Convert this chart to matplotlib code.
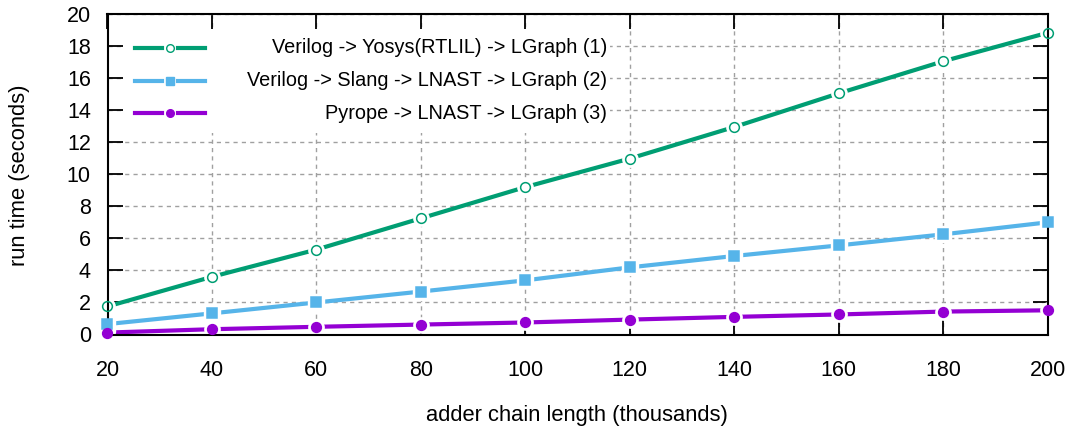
import matplotlib
matplotlib.use('Agg')
import matplotlib.pyplot as plt
from matplotlib.patches import Rectangle

plt.rcParams['font.family'] = ['Liberation Sans', 'DejaVu Sans']

chain_len = [20, 40, 60, 80, 100, 120, 140, 160, 180, 200]
yosys_time = [1.75, 3.6, 5.3, 7.25, 9.2, 10.98, 12.95, 15.05, 17.05, 18.83]
slang_time = [0.65, 1.32, 2.0, 2.68, 3.38, 4.19, 4.9, 5.56, 6.25, 7.0]
pyrope_time = [0.12, 0.33, 0.48, 0.62, 0.75, 0.93, 1.1, 1.25, 1.43, 1.51]

labels = ['Verilog -> Yosys(RTLIL) -> LGraph (1)',
          'Verilog -> Slang -> LNAST -> LGraph (2)',
          'Pyrope -> LNAST -> LGraph (3)']
colors = ['#009e73', '#56b4e9', '#9400d3']
markers = ['o', 's', 'o']
faces = ['none', '#56b4e9', '#9400d3']

W, H = 1071, 432
fig = plt.figure(figsize=(W / 100, H / 100), dpi=100)
x0, x1, ytop, ybot = 107.5, 1047.7, 14, 334.5
ax = fig.add_axes([x0 / W, 1 - ybot / H, (x1 - x0) / W, (ybot - ytop) / H])

series = [yosys_time, slang_time, pyrope_time]
for vals, c, m, fc in zip(series, colors, markers, faces):
    ax.plot(chain_len, vals, color=c, lw=3.0, zorder=3, clip_on=False)
    # white halo gives the gnuplot-like gap around each point
    ax.plot(chain_len, vals, ls='none', marker=m, ms=11, color='white', mec='white', zorder=4, clip_on=False)
    ax.plot(chain_len, vals, ls='none', marker=m, ms=7 if m == 'o' else 6.8,
            mfc=fc, mec=c, mew=1.1, zorder=5, clip_on=False)

# opaque key box that hides the grid, like gnuplot's
ax.add_patch(Rectangle(((123 - x0) / (x1 - x0), (ybot - 132.5) / (ybot - ytop)),
                       (610 - 123) / (x1 - x0), (132.5 - 29) / (ybot - ytop),
                       transform=ax.transAxes, facecolor='white', edgecolor='none', zorder=2))

# legend drawn by hand: sample on the left, text right aligned
rows_y = [47.7, 80.7, 113.3]
for yy, lab, c, m, fc in zip(rows_y, labels, colors, markers, faces):
    yf = 1 - yy / H
    fig.add_artist(plt.Line2D([135 / W, 162 / W], [yf, yf], color=c, lw=3.0))
    fig.add_artist(plt.Line2D([178 / W, 205 / W], [yf, yf], color=c, lw=3.0))
    fig.add_artist(plt.Line2D([170 / W], [yf], ls='none', marker=m, ms=5.5,
                              mfc=fc, mec=c, mew=1.0))
    fig.text(607 / W, yf, lab, ha='right', va='center', fontsize=14.3)

ax.set_xlim(20, 200)
ax.set_ylim(0, 20)
ax.set_xticks(chain_len)
ax.set_yticks(range(0, 21, 2))
ax.tick_params(direction='in', length=11, width=1.3, labelsize=15.5, top=True, right=True)
ax.tick_params(axis='x', pad=18)
ax.tick_params(axis='y', pad=12)
ax.grid(True, color='#a0a0a0', ls=(0, (3, 3)), lw=1.0)
ax.set_axisbelow(True)
for s in ax.spines.values():
    s.set_linewidth(1.5)
    s.set_zorder(4.5)

fig.text(20 / W, 1 - 175 / H, 'run time (seconds)', rotation=90, ha='center', va='center', fontsize=15.8)
fig.text(577 / W, 1 - 415 / H, 'adder chain length (thousands)', ha='center', va='center', fontsize=15.8)

fig.savefig('out.png', dpi=100)
